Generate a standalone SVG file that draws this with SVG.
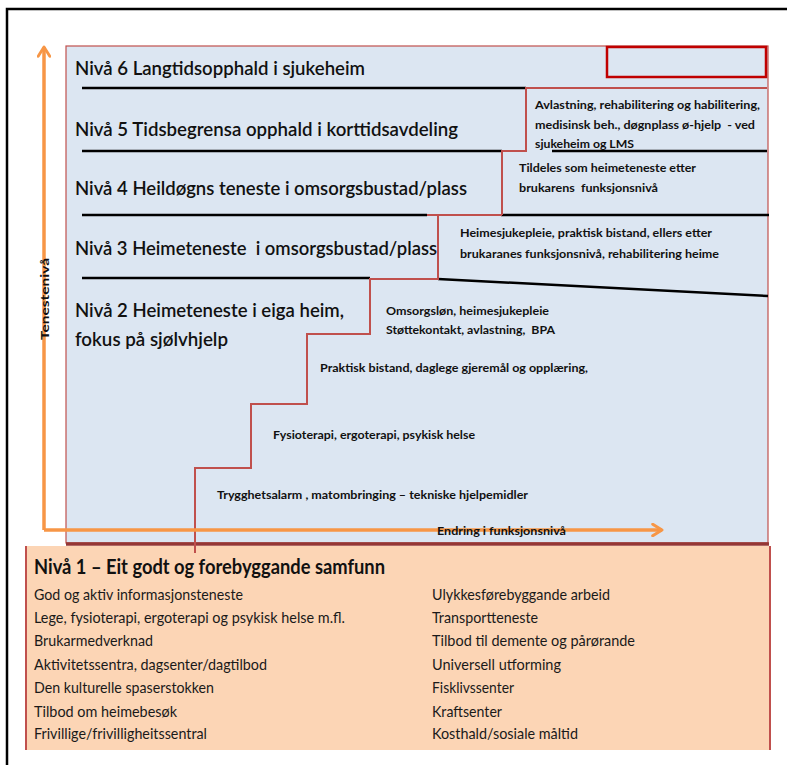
<svg xmlns="http://www.w3.org/2000/svg" width="787" height="765" viewBox="0 0 787 765">
<style>
text{white-space:pre}
.lvl{font-family:Lato,"Liberation Sans",sans-serif;font-size:19px;fill:#111;font-weight:600}
.sm{font-family:Lato,"Liberation Sans",sans-serif;font-size:12px;fill:#111;font-weight:bold}
.ls{font-family:Lato,"Liberation Sans",sans-serif;font-size:16px;fill:#1a1a1a}
.ttl{font-family:Lato,"Liberation Sans",sans-serif;font-size:20px;fill:#111;font-weight:bold}
.blk{stroke:#000;stroke-width:2.5;fill:none}
.red{stroke:#c0504d;stroke-width:2;fill:none}
.axis{stroke:#f79646;stroke-width:3.5;fill:none}
</style>
<defs>
<marker id="chev" viewBox="0 0 12 12" refX="10" refY="6" markerWidth="4" markerHeight="4" orient="auto" markerUnits="strokeWidth">
<polyline points="2,1 10,6 2,11" fill="none" stroke="#f79646" stroke-width="2.5" stroke-linecap="round" stroke-linejoin="round"/>
</marker>
</defs>
<rect width="787" height="765" fill="#fff"/>
<!-- outer frame -->
<path d="M7,765 V9 H787" fill="none" stroke="#000" stroke-width="2.5"/>

<!-- peach base box -->
<g id="niva1">
<rect x="26" y="546" width="744" height="204" fill="#fcd5b5"/>
<path d="M26,750 V546 M770,546 V750" stroke="#c0504d" stroke-width="2" fill="none"/>
<text class="ttl" x="34" y="574" textLength="351" lengthAdjust="spacingAndGlyphs">Nivå 1 – Eit godt og forebyggande samfunn</text>
<text class="ls" x="34" y="600" textLength="209" lengthAdjust="spacingAndGlyphs">God og aktiv informasjonsteneste</text>
<text class="ls" x="34" y="623" textLength="311" lengthAdjust="spacingAndGlyphs">Lege, fysioterapi, ergoterapi og psykisk helse m.fl.</text>
<text class="ls" x="34" y="646" textLength="119" lengthAdjust="spacingAndGlyphs">Brukarmedverknad</text>
<text class="ls" x="34" y="670" textLength="233" lengthAdjust="spacingAndGlyphs">Aktivitetssentra, dagsenter/dagtilbod</text>
<text class="ls" x="34" y="693" textLength="180" lengthAdjust="spacingAndGlyphs">Den kulturelle spaserstokken</text>
<text class="ls" x="34" y="717" textLength="143" lengthAdjust="spacingAndGlyphs">Tilbod om heimebesøk</text>
<text class="ls" x="34" y="739" textLength="173" lengthAdjust="spacingAndGlyphs">Frivillige/frivilligheitssentral</text>
<text class="ls" x="432" y="600" textLength="178" lengthAdjust="spacingAndGlyphs">Ulykkesførebyggande arbeid</text>
<text class="ls" x="432" y="623" textLength="106" lengthAdjust="spacingAndGlyphs">Transportteneste</text>
<text class="ls" x="432" y="646" textLength="203" lengthAdjust="spacingAndGlyphs">Tilbod til demente og pårørande</text>
<text class="ls" x="432" y="670" textLength="129" lengthAdjust="spacingAndGlyphs">Universell utforming</text>
<text class="ls" x="432" y="693" textLength="82" lengthAdjust="spacingAndGlyphs">Fisklivssenter</text>
<text class="ls" x="432" y="717" textLength="70" lengthAdjust="spacingAndGlyphs">Kraftsenter</text>
<text class="ls" x="432" y="739" textLength="146" lengthAdjust="spacingAndGlyphs">Kosthald/sosiale måltid</text>
</g>

<!-- blue main box -->
<g id="panel">
<rect x="66" y="46" width="702" height="497" fill="#dce6f2" stroke="#c0504d" stroke-width="1.2"/>
<line x1="66" y1="544" x2="769" y2="544" stroke="#953735" stroke-width="3.5"/>
<rect x="607" y="47" width="159" height="30" fill="none" stroke="#c00000" stroke-width="2.5"/>
</g>

<!-- level separators -->
<g id="separators">
<line class="blk" x1="82" y1="88" x2="526" y2="88"/>
<line class="blk" x1="82" y1="151" x2="502" y2="151"/>
<line class="blk" x1="552" y1="151" x2="767" y2="151"/>
<line class="blk" x1="82" y1="215" x2="427" y2="215"/>
<line class="blk" x1="501" y1="215" x2="769" y2="215"/>
<line class="blk" x1="82" y1="278" x2="370" y2="278"/>
<line class="blk" x1="438" y1="279" x2="768" y2="296"/>
</g>

<!-- staircase -->
<g id="staircase">
<polyline class="red" points="767,88 526,88 526,151 502,151 502,215"/>
<line class="red" x1="427" y1="215" x2="502" y2="215"/>
<polyline class="red" points="438,215 438,279 370,279 370,334 307,334 307,404 251,404 251,468 195,468 195,553"/>
</g>

<g id="niva6"><text class="lvl" x="75" y="75" textLength="290" lengthAdjust="spacingAndGlyphs">Nivå 6 Langtidsopphald i sjukeheim</text></g>
<g id="niva5">
<text class="lvl" x="75" y="136" textLength="383" lengthAdjust="spacingAndGlyphs">Nivå 5 Tidsbegrensa opphald i korttidsavdeling</text>
<text class="sm" x="535" y="109" textLength="225" lengthAdjust="spacingAndGlyphs">Avlastning, rehabilitering og habilitering,</text>
<text class="sm" x="535" y="129" textLength="220" lengthAdjust="spacingAndGlyphs">medisinsk beh., døgnplass ø-hjelp  - ved</text>
<text class="sm" x="535" y="148" textLength="99" lengthAdjust="spacingAndGlyphs">sjukeheim og LMS</text>
</g>
<g id="niva4">
<text class="lvl" x="75" y="195" textLength="392" lengthAdjust="spacingAndGlyphs">Nivå 4 Heildøgns teneste i omsorgsbustad/plass</text>
<text class="sm" x="519" y="172" textLength="177" lengthAdjust="spacingAndGlyphs">Tildeles som heimeteneste etter</text>
<text class="sm" x="519" y="192" textLength="139" lengthAdjust="spacingAndGlyphs">brukarens  funksjonsnivå</text>
</g>
<g id="niva3">
<text class="lvl" x="75" y="255" textLength="362" lengthAdjust="spacingAndGlyphs">Nivå 3 Heimeteneste  i omsorgsbustad/plass</text>
<text class="sm" x="460" y="237" textLength="252" lengthAdjust="spacingAndGlyphs">Heimesjukepleie, praktisk bistand, ellers etter</text>
<text class="sm" x="460" y="258" textLength="259" lengthAdjust="spacingAndGlyphs">brukaranes funksjonsnivå, rehabilitering heime</text>
</g>
<g id="niva2">
<text class="lvl" x="75" y="317" textLength="269" lengthAdjust="spacingAndGlyphs">Nivå 2 Heimeteneste i eiga heim,</text>
<text class="lvl" x="75" y="346" textLength="153" lengthAdjust="spacingAndGlyphs">fokus på sjølvhjelp</text>
<text class="sm" x="386" y="315" textLength="163" lengthAdjust="spacingAndGlyphs">Omsorgsløn, heimesjukepleie</text>
<text class="sm" x="386" y="334" textLength="169" lengthAdjust="spacingAndGlyphs">Støttekontakt, avlastning,  BPA</text>
<text class="sm" x="320" y="372" textLength="268" lengthAdjust="spacingAndGlyphs">Praktisk bistand, daglege gjeremål og opplæring,</text>
<text class="sm" x="273" y="439" textLength="202" lengthAdjust="spacingAndGlyphs">Fysioterapi, ergoterapi, psykisk helse</text>
<text class="sm" x="217" y="499" textLength="311" lengthAdjust="spacingAndGlyphs">Trygghetsalarm , matombringing – tekniske hjelpemidler</text>
</g>

<!-- axes -->
<g id="connectors">
<polyline class="axis" points="44,530 44,47" marker-end="url(#chev)"/>
<polyline class="axis" points="44,530 662,530" marker-end="url(#chev)"/>
</g>
<g id="axis-labels">
<text class="sm" transform="translate(49,340) rotate(-90)" x="0" y="0" textLength="82" lengthAdjust="spacingAndGlyphs">Tenestenivå</text>
<text class="sm" x="437" y="535" textLength="129" lengthAdjust="spacingAndGlyphs">Endring i funksjonsnivå</text>
</g>
</svg>
